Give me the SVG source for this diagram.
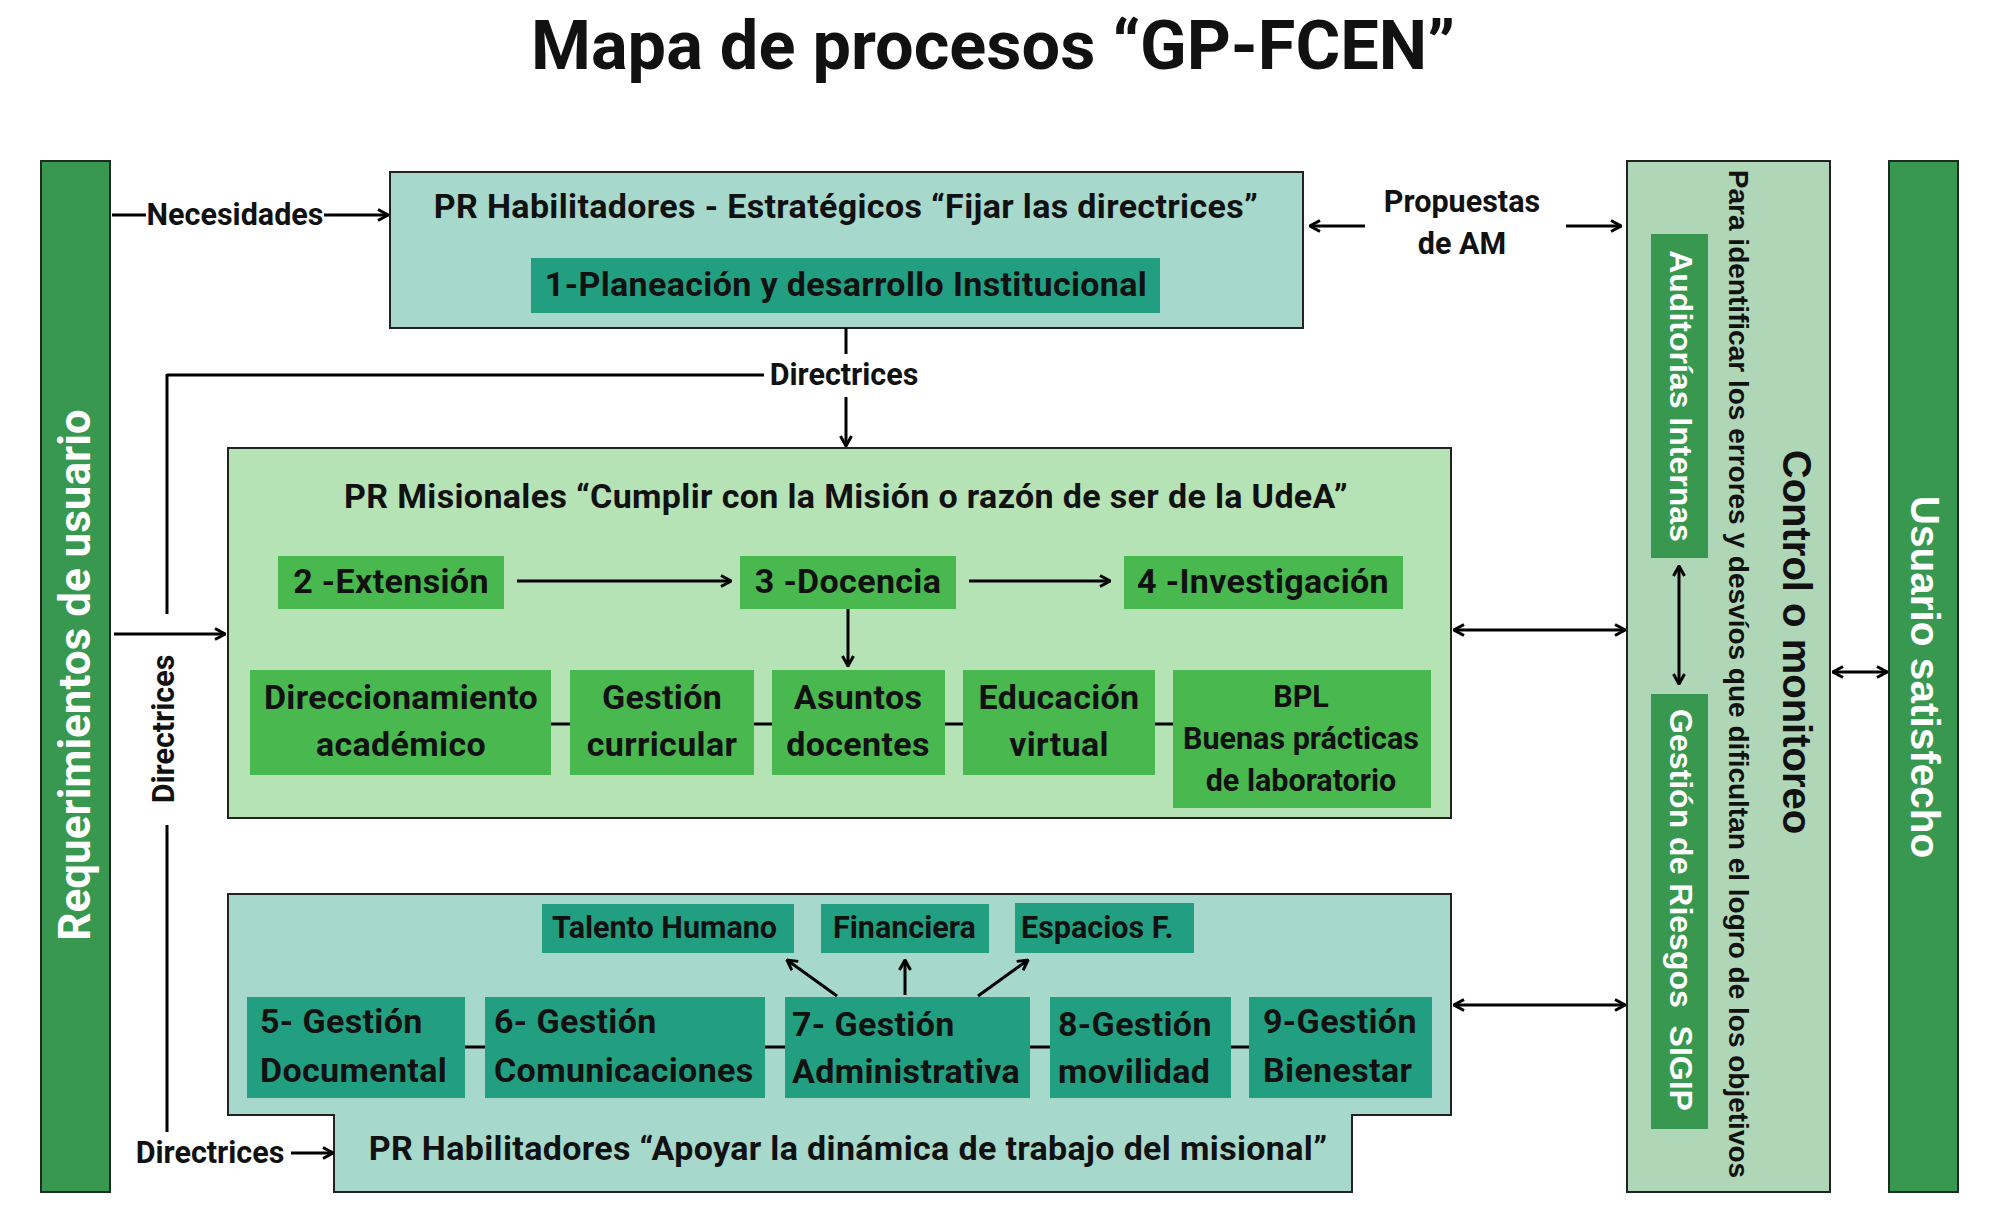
<svg xmlns="http://www.w3.org/2000/svg" width="2000" height="1227" viewBox="0 0 2000 1227">
<defs>
<style>
text{font-family:Roboto,"Liberation Sans",sans-serif;font-weight:bold;fill:#111}
.ar{font-family:"Liberation Sans",Arial,sans-serif}
.w{fill:#fff}
.big{font-size:34px;letter-spacing:0.35px}
.med{font-size:30.5px}
.mid{text-anchor:middle}
.bar{fill:#38984f;stroke:#1c2e22;stroke-width:2}
.pale{fill:#a6d8cc;stroke:#222;stroke-width:2}
.mis{fill:#b5e3b5;stroke:#222;stroke-width:2}
.ctl{fill:#b0d6b8;stroke:#222;stroke-width:2}
.teal{fill:#219f80}
.grn{fill:#48b84f}
.dk{fill:#38984f}
.ln{stroke:#000;stroke-width:3;fill:none}
.a{marker-end:url(#ah)}
.aa{marker-start:url(#ah);marker-end:url(#ah)}
</style>
<marker id="ah" viewBox="0 0 12 14" refX="11" refY="7" markerWidth="12" markerHeight="14" markerUnits="userSpaceOnUse" orient="auto-start-reverse">
<path d="M1,1.5 L11,7 L1,12.5" fill="none" stroke="#000" stroke-width="3"/>
</marker>
</defs>
<rect width="2000" height="1227" fill="#fff"/>

<text id="title" x="993" y="69" text-anchor="middle" style="font-size:68.5px">Mapa de procesos “GP-FCEN”</text>

<g id="requerimientos">
<rect class="bar" x="41" y="161" width="69" height="1031"/>
<text class="w mid" transform="translate(75,675) rotate(-90)" dominant-baseline="central" style="font-size:44px">Requerimientos de usuario</text>
</g>

<g id="estrategicos">
<rect class="pale" x="390" y="172" width="913" height="156"/>
<text class="big mid" x="846" y="218">PR Habilitadores - Estratégicos “Fijar las directrices”</text>
<rect class="teal" x="531" y="258" width="629" height="55"/>
<text class="big mid" x="846" y="296">1-Planeación y desarrollo Institucional</text>
</g>

<g id="misionales">
<rect class="mis" x="228" y="448" width="1223" height="370"/>
<text class="big mid" x="846" y="508">PR Misionales “Cumplir con la Misión o razón de ser de la UdeA”</text>
<g id="extension"><rect class="grn" x="278" y="556" width="226" height="53"/><text class="big mid" x="391" y="593">2 -Extensión</text></g>
<g id="docencia"><rect class="grn" x="740" y="556" width="216" height="53"/><text class="big mid" x="848" y="593">3 -Docencia</text></g>
<g id="investigacion"><rect class="grn" x="1124" y="556" width="279" height="53"/><text class="big mid" x="1263" y="593">4 -Investigación</text></g>
<g id="direccionamiento"><rect class="grn" x="250" y="670" width="301" height="105"/><text class="big mid" x="401" y="709">Direccionamiento</text><text class="big mid" x="401" y="756">académico</text></g>
<g id="curricular"><rect class="grn" x="570" y="670" width="184" height="105"/><text class="big mid" x="662" y="709">Gestión</text><text class="big mid" x="662" y="756">curricular</text></g>
<g id="asuntos"><rect class="grn" x="772" y="670" width="173" height="105"/><text class="big mid" x="858" y="709">Asuntos</text><text class="big mid" x="858" y="756">docentes</text></g>
<g id="educacion"><rect class="grn" x="963" y="670" width="192" height="105"/><text class="big mid" x="1059" y="709">Educación</text><text class="big mid" x="1059" y="756">virtual</text></g>
<g id="bpl"><rect class="grn" x="1173" y="670" width="258" height="138"/><text class="med mid" x="1301" y="707">BPL</text><text class="med mid" x="1301" y="749">Buenas prácticas</text><text class="med mid" x="1301" y="791">de laboratorio</text></g>
</g>

<g id="apoyo">
<path class="pale" d="M228,894 H1451 V1115 H1352 V1192 H334 V1115 H228 Z"/>
<text class="big mid" x="848" y="1160">PR Habilitadores “Apoyar la dinámica de trabajo del misional”</text>
<g id="talento"><rect class="teal" x="542" y="904" width="252" height="49"/><text class="med" x="552" y="938">Talento Humano</text></g>
<g id="financiera"><rect class="teal" x="821" y="904" width="168" height="49"/><text class="med" x="833" y="938">Financiera</text></g>
<g id="espacios"><rect class="teal" x="1015" y="903" width="179" height="50"/><text class="med" x="1021" y="938">Espacios F.</text></g>
<g id="g5"><rect class="teal" x="247" y="997" width="218" height="101"/><text class="big" x="260" y="1033">5- Gestión</text><text class="big" x="260" y="1082">Documental</text></g>
<g id="g6"><rect class="teal" x="485" y="997" width="280" height="101"/><text class="big" x="494" y="1033">6- Gestión</text><text class="big" x="494" y="1082">Comunicaciones</text></g>
<g id="g7"><rect class="teal" x="785" y="997" width="245" height="101"/><text class="big" x="792" y="1036">7- Gestión</text><text class="big" x="792" y="1083">Administrativa</text></g>
<g id="g8"><rect class="teal" x="1050" y="997" width="181" height="101"/><text class="big" x="1058" y="1036">8-Gestión</text><text class="big" x="1058" y="1083">movilidad</text></g>
<g id="g9"><rect class="teal" x="1249" y="997" width="183" height="101"/><text class="big" x="1263" y="1033">9-Gestión</text><text class="big" x="1263" y="1082">Bienestar</text></g>
</g>

<g id="control">
<rect class="ctl" x="1627" y="161" width="203" height="1031"/>
<text class="ar mid" transform="translate(1797,642) rotate(90)" dominant-baseline="central" style="font-size:40px">Control o monitoreo</text>
<text class="ar mid" transform="translate(1738,674) rotate(90)" dominant-baseline="central" style="font-size:28px">Para identificar los errores y desvíos que dificultan el logro de los objetivos</text>
<g id="auditorias"><rect class="dk" x="1651" y="234" width="57" height="324"/><text class="ar w mid" transform="translate(1681,396) rotate(90)" dominant-baseline="central" style="font-size:32px">Auditorías Internas</text></g>
<g id="riesgos"><rect class="dk" x="1651" y="694" width="57" height="435"/><text class="ar w mid" transform="translate(1681,910) rotate(90)" dominant-baseline="central" style="font-size:32px;white-space:pre" xml:space="preserve">Gestión de Riesgos  SIGIP</text></g>
</g>

<g id="usuario">
<rect class="bar" x="1889" y="161" width="69" height="1031"/>
<text class="ar w mid" transform="translate(1925,677) rotate(90)" dominant-baseline="central" style="font-size:40.5px">Usuario satisfecho</text>
</g>

<g id="connectors">
<line class="ln" x1="112" y1="215" x2="146" y2="215"/>
<line class="ln a" x1="324" y1="215" x2="388" y2="215"/>
<text class="med mid" x="235" y="225">Necesidades</text>

<line class="ln" x1="846" y1="328" x2="846" y2="354"/>
<line class="ln a" x1="846" y1="397" x2="846" y2="446"/>
<line class="ln" x1="167" y1="375" x2="764" y2="375"/>
<text class="med mid" x="844" y="385">Directrices</text>
<line class="ln" x1="167" y1="374" x2="167" y2="614"/>
<text class="med mid" transform="translate(163,729) rotate(-90)" dominant-baseline="central">Directrices</text>
<line class="ln" x1="167" y1="825" x2="167" y2="1132"/>
<text class="med mid" x="210" y="1163">Directrices</text>
<line class="ln a" x1="291" y1="1153" x2="333" y2="1153"/>

<line class="ln a" x1="114" y1="634" x2="225" y2="634"/>

<line class="ln a" x1="1365" y1="226" x2="1310" y2="226"/>
<line class="ln a" x1="1566" y1="226" x2="1621" y2="226"/>
<text class="med mid" x="1462" y="212">Propuestas</text>
<text class="med mid" x="1462" y="254">de AM</text>

<line class="ln a" x1="517" y1="581" x2="731" y2="581"/>
<line class="ln a" x1="969" y1="581" x2="1110" y2="581"/>
<line class="ln a" x1="848" y1="609" x2="848" y2="666"/>

<line class="ln" x1="551" y1="724" x2="570" y2="724"/>
<line class="ln" x1="754" y1="724" x2="772" y2="724"/>
<line class="ln" x1="945" y1="724" x2="963" y2="724"/>
<line class="ln" x1="1155" y1="724" x2="1173" y2="724"/>

<line class="ln" x1="465" y1="1047" x2="485" y2="1047"/>
<line class="ln" x1="765" y1="1047" x2="785" y2="1047"/>
<line class="ln" x1="1030" y1="1047" x2="1050" y2="1047"/>
<line class="ln" x1="1231" y1="1047" x2="1249" y2="1047"/>

<line class="ln a" x1="837" y1="996" x2="787" y2="960"/>
<line class="ln a" x1="905" y1="995" x2="905" y2="960"/>
<line class="ln a" x1="978" y1="996" x2="1028" y2="960"/>

<line class="ln aa" x1="1454" y1="630" x2="1625" y2="630"/>
<line class="ln aa" x1="1454" y1="1005" x2="1625" y2="1005"/>
<line class="ln aa" x1="1679" y1="566" x2="1679" y2="684"/>
<line class="ln aa" x1="1833" y1="672" x2="1887" y2="672"/>
</g>
</svg>
